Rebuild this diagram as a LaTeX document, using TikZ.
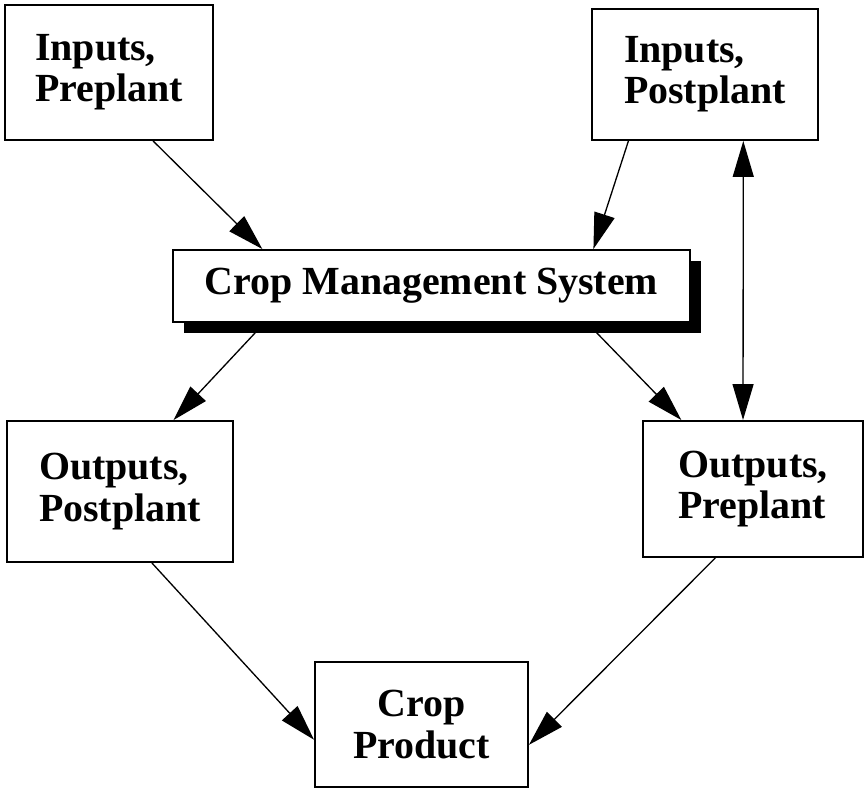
\documentclass[tikz,border=0pt]{standalone}
\usepackage{fontspec}
\setmainfont{Liberation Serif}
\usetikzlibrary{arrows.meta,calc,shadows}

\begin{document}
\begin{tikzpicture}
        \tikzset{
        box/.style={draw, line width=1.1pt, fill=white, inner sep=0pt,
        font=\bfseries\fontsize{22.7}{23.5}\selectfont, align=left},
        cmsbox/.style={box, drop shadow={shadow xshift=0.22cm,
        shadow yshift=-0.22cm, fill=black, opacity=1}},
        c1/.style={-{Triangle[length=0.72cm,width=0.42cm]}, line width=0.75pt},
        c2/.style={{Triangle[length=0.72cm,width=0.42cm]}-{Triangle[length=0.72cm,width=0.42cm]}, line width=0.75pt}
        }
        \useasboundingbox (0,0) rectangle (17.3,15.76);
        \node[box, minimum width=4.16cm, minimum height=2.70cm] (inpre) at (2.18,14.31) {Inputs,\\Preplant};
        \node[box, minimum width=4.52cm, minimum height=2.62cm] (inpost) at (14.10,14.27) {Inputs,\\Postplant};
        \node[cmsbox, minimum width=10.34cm, minimum height=1.44cm] (cms) at (8.63,10.04) {Crop Management System};
        \node[box, minimum width=4.52cm, minimum height=2.82cm] (outpost) at (2.40,5.93) {Outputs,\\Postplant};
        \node[box, minimum width=4.40cm, minimum height=2.72cm] (outpre) at (15.06,5.98) {Outputs,\\Preplant};
        \node[box, align=center, minimum width=4.26cm, minimum height=2.50cm] (prod) at (8.43,1.27) {Crop\\Product};

        \draw[c1] ($(inpre.south west)!0.71!(inpre.south east)$) -- ($(cms.north west)!0.174!(cms.north east)$);
        \draw[c1] ($(inpost.south west)!0.164!(inpost.south east)$) -- ($(cms.north west)!0.812!(cms.north east)$);
        \draw[c2] ($(inpost.south west)!0.668!(inpost.south east)$) -- ($(outpre.north west)!0.455!(outpre.north east)$);
        \draw[c1] ($(cms.south west)!0.178!(cms.south east)$) -- ($(outpost.north west)!0.735!(outpost.north east)$);
        \draw[c1] ($(cms.south west)!0.80!(cms.south east)$) -- ($(outpre.north west)!0.177!(outpre.north east)$);
        \draw[c1] ($(outpost.south west)!0.64!(outpost.south east)$) -- ($(prod.north west)!0.62!(prod.south west)$);
        \draw[c1] ($(outpre.south west)!0.33!(outpre.south east)$) -- ($(prod.north east)!0.66!(prod.south east)$);
\end{tikzpicture}
\end{document}
